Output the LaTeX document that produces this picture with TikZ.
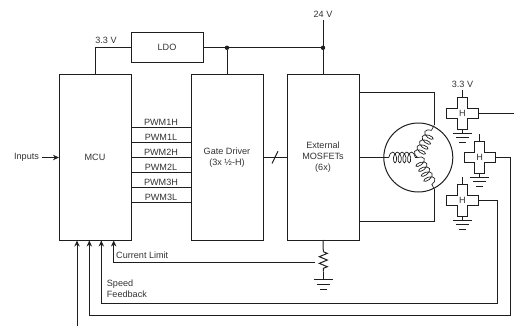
\documentclass[tikz,border=0pt]{standalone}
\usepackage{fontspec}
\setmainfont{Liberation Sans}
\usepackage{xcolor}
\usepackage{tikz}
\usetikzlibrary{arrows.meta, positioning, calc, decorations.pathmorphing}
\definecolor{mywire}{RGB}{30,30,30}
\definecolor{mytext}{RGB}{50,50,50}
\tikzset{
  block/.style={rectangle, draw=mywire, minimum width=72pt, minimum height=165pt,
    align=center, font=\fontsize{9.1}{11}\selectfont, text=mytext, line width=1pt, outer sep=0pt, inner sep=0pt},
  ldoblock/.style={block, minimum height=30pt},
  lbl/.style={font=\fontsize{9.1}{11}\selectfont, text=mytext, align=left, inner sep=0pt},
  hallnode/.style={rectangle, minimum size=31.5pt, font=\fontsize{9.1}{11}\selectfont, text=mytext, inner sep=0pt, outer sep=0pt},
  wire/.style={line width=1pt, color=mywire},
  arrow/.style={-{Stealth[length=6pt, width=5.4pt]}, wire},
  dot/.style={circle, fill=mywire, minimum size=4.4pt, inner sep=0pt},
  coilwire/.style={wire, line width=0.7pt, decorate,
    decoration={coil, aspect=0.5, segment length=5.6pt, amplitude=5.4pt}},
  gnd/.pic={
    \draw[wire] (-9.5,0) -- (9.5,0);
    \draw[wire] (-6.5,4.5) -- (6.5,4.5);
    \draw[wire] (-3.5,9.5) -- (3.5,9.5);
  }
}
\begin{document}
\begin{tikzpicture}[x=1pt, y=-1pt]
  \useasboundingbox (0,0) rectangle (514,326);
  % Main blocks
  \node[block] (mcu) at (95,157.5) {MCU};
  \node[block] (driver) at (227,157.5) {Gate Driver\\(3x ½-H)};
  \node[block] (mosfets) at (323,157.5) {External\\MOSFETs\\(6x)};
  \node[ldoblock] (ldo) at (167,47.8) {LDO};
  % Supply rails
  \node[lbl] (vbus) at (323,14.5) {24 V};
  \node[lbl] (vldo) at (106,40.7) {3.3 V};
  \node[dot] (jdrv) at (driver.north |- ldo.east) {};
  \node[dot] (jbus) at (mosfets.north |- ldo.east) {};
  \draw[wire] (ldo.west) -| (mcu.north);
  \draw[wire] (ldo.east) -- (jbus);
  \draw[wire] (jdrv) -- (driver.north);
  \draw[wire] (vbus.south) ++(0,2.5) -- (mosfets.north);
  % PWM lines
  \foreach \y/\lbl [count=\i] in {127.3/PWM1H, 142.3/PWM1L, 157.6/PWM2H, 172.7/PWM2L, 187.7/PWM3H, 202.7/PWM3L} {
    \coordinate (pwm\i) at (mcu.east |- 0,\y);
    \draw[wire] (pwm\i) -- (driver.west |- pwm\i);
    \node[lbl, above=1.7pt] at ($(pwm\i)!0.5!(driver.west |- pwm\i)$) {\lbl};
  }
  % Inputs and driver bus
  \node[lbl] (inputs) at (26.5,157.5) {Inputs};
  \draw[arrow] (inputs.east) ++(3,0) -- (mcu.west);
  \draw[wire] (driver.east) -- (mosfets.west);
  \draw[wire] ($(driver.east)!0.5!(mosfets.west)+(-3,6)$) -- ++(6,-12.3);
  % Motor
  \node[circle, draw=mywire, line width=1pt, minimum size=69pt, inner sep=0pt, outer sep=0pt] (motor) at (418.3,157.5) {};
  \coordinate (star) at (417.5,157.5);
  \coordinate (phaseA) at (434,125.5);
  \coordinate (phaseC) at (434,188.5);
  \draw[wire] (mosfets.east) -- (motor.west);
  \draw[wire] (mosfets.east |- 0,92.7) -| (phaseA);
  \draw[wire] (mosfets.east |- 0,221) -| (phaseC);
  \draw[coilwire, decoration={segment length=4.7pt}] (motor.west) ++(5,0) -- (star);
  \draw[coilwire] (star) -- (phaseA);
  \draw[coilwire] (star) -- (phaseC);
  \draw[wire, line width=0.7pt] (motor.west) -- ++(5,0);
  % Hall sensors
  \foreach \hall/\x/\y in {hallA/462.5/113.5, hallB/479.7/157.5, hallC/462.5/200.5} {
    \node[hallnode] (\hall) at (\x,\y) {H};
    \draw[wire] (\hall.north) ++(-5.2,0) -- ++(10.4,0) -- ++(0,10.5) -- ++(10.5,0) -- ++(0,10.5)
      -- ++(-10.5,0) -- ++(0,10.5) -- ++(-10.4,0) -- ++(0,-10.5) -- ++(-10.5,0) -- ++(0,-10.5) -- ++(10.5,0) -- cycle;
    \draw[wire] (\hall.north) -- ++(0,-7.7);
    \draw[wire] (\hall.south) -- ++(0,4);
    \pic at ($(\hall.south)+(0,4)$) {gnd};
  }
  \node[lbl] (vhall) at (462.5,84.5) {3.3 V};
  \coordinate (hallout) at (514,113.5);
  \draw[wire] (hallA.east) -- (hallout);
  % Sense resistor
  \coordinate (rtop) at (323.3,251.7);
  \coordinate (rbot) at (323.3,271.7);
  \draw[wire] (mosfets.south) -- (rtop);
  \draw[wire, decorate, decoration={zigzag, segment length=6.67pt, amplitude=4pt}] (rtop) -- (rbot);
  \draw[wire] (rbot) -- ++(0,8);
  \pic at (323.3,279.7) {gnd};
  % Feedback into the MCU
  \foreach \name/\x in {pinA/77, pinB/89.3, pinC/101.3, pinD/113.7} {
    \coordinate (\name) at (\x,240.5);
  }
  \coordinate (rtap) at (315,262);
  \coordinate (hallturnC) at (497.3,303);
  \coordinate (hallturnB) at (510,315);
  \coordinate (ext) at (77,326);
  \draw[arrow] (rtap) -| (pinD);
  \draw[arrow] (hallC.east) -| (hallturnC) -| (pinC);
  \draw[arrow] (hallB.east) -| (hallturnB) -| (pinB);
  \draw[arrow] (ext) -- (pinA);
  \node[lbl, anchor=west] (climit) at (116,255.7) {Current Limit};
  \node[lbl, anchor=west] (speed) at (106.7,289) {Speed\\Feedback};
\end{tikzpicture}
\end{document}
